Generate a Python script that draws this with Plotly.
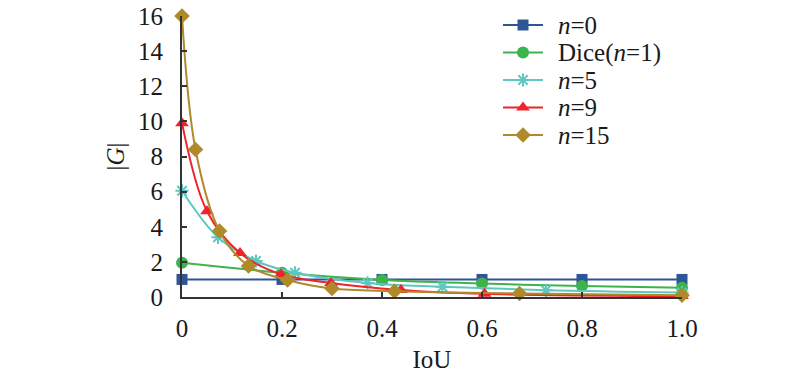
import plotly.graph_objects as go

# Data
x_n0 = [0, 0.2, 0.4, 0.6, 0.8, 1.0]
y_n0 = [1, 1, 1, 1, 1, 1]

x_dice = [0, 0.2, 0.4, 0.6, 0.8, 1.0]
y_dice = [1.95, 1.38, 0.97, 0.77, 0.62, 0.53]

x_n5 = [0, 0.072, 0.148, 0.226, 0.371, 0.521, 0.728, 1.0]
y_n5 = [6.05, 3.4, 2.05, 1.38, 0.8, 0.58, 0.38, 0.25]

x_n9 = [0, 0.05, 0.116, 0.198, 0.298, 0.438, 0.605, 1.0]
y_n9 = [9.9, 4.88, 2.5, 1.3, 0.8, 0.4, 0.18, 0.05]

x_n15 = [0, 0.027, 0.075, 0.133, 0.211, 0.30, 0.425, 0.675, 1.0]
y_n15 = [16, 8.4, 3.76, 1.77, 0.97, 0.48, 0.33, 0.2, 0.1]

x_ticks = [0, 0.2, 0.4, 0.6, 0.8, 1.0]
x_ticktext = ["0", "0.2", "0.4", "0.6", "0.8", "1.0"]
y_ticks = [0, 2, 4, 6, 8, 10, 12, 14, 16]

series_names = ["<i>n</i>=0", "Dice(<i>n</i>=1)", "<i>n</i>=5", "<i>n</i>=9", "<i>n</i>=15"]
series_x = [x_n0, x_dice, x_n5, x_n9, x_n15]
series_y = [y_n0, y_dice, y_n5, y_n9, y_n15]
colors = ["#2f5597", "#3cb44b", "#5ec8c0", "#f0222a", "#b08a2a"]
symbols = ["square", "circle", "asterisk-open", "triangle-up", "diamond"]
sizes = [11, 12, 11, 12, 12]

# plot-area geometry in page px
L, R, T, B = 182, 682, 16, 297
W, H = 800, 377
FONT = "Liberation Serif, Times New Roman, serif"
FS = 25

fig = go.Figure()
for name, xs, ys, col, sym, sz in zip(series_names, series_x, series_y, colors, symbols, sizes):
    fig.add_trace(go.Scatter(
        x=xs, y=ys, name=name, mode="lines+markers", showlegend=False,
        line=dict(color=col, width=2, shape="spline", smoothing=1.0),
        marker=dict(symbol=sym, size=sz, color=col,
                    line=dict(color=col, width=2 if "open" in sym else 0)),
        cliponaxis=False,
    ))

# Hand-laid legend on a pixel-scaled overlay axis
leg_x0, leg_x1, leg_txt = 503, 543, 556
leg_y0, leg_dy = 25, 27.5
for i, (name, col, sym, sz) in enumerate(zip(series_names, colors, symbols, sizes)):
    yy = leg_y0 + i * leg_dy
    fig.add_trace(go.Scatter(
        x=[leg_x0, leg_x1], y=[yy, yy], mode="lines", showlegend=False,
        line=dict(color=col, width=2), xaxis="x2", yaxis="y2",
        hoverinfo="skip", cliponaxis=False))
    fig.add_trace(go.Scatter(
        x=[(leg_x0 + leg_x1) / 2], y=[yy], mode="markers", showlegend=False,
        marker=dict(symbol=sym, size=sz, color=col,
                    line=dict(color=col, width=2 if "open" in sym else 0)),
        xaxis="x2", yaxis="y2", hoverinfo="skip", cliponaxis=False))
    fig.add_annotation(x=leg_txt, y=yy, xref="x2", yref="y2", text=name,
                       showarrow=False, xanchor="left", yanchor="middle",
                       font=dict(family=FONT, size=FS, color="#1a1a1a"))

fig.update_layout(
    width=W, height=H,
    margin=dict(l=L, r=W - R, t=T, b=H - B, autoexpand=False),
    paper_bgcolor="white", plot_bgcolor="white",
    font=dict(family=FONT, size=FS, color="#1a1a1a"),
    showlegend=False,
    xaxis=dict(range=[0, 1.0], tickvals=x_ticks, ticktext=x_ticktext,
               ticks="inside", ticklen=5, tickcolor="#333", tickwidth=1.5,
               showline=True, linecolor="#333", linewidth=2,
               showgrid=False, zeroline=False, automargin=False,
               ticklabelstandoff=8, ticklabeloverflow="allow",
               title=dict(text="IoU", standoff=9, font=dict(size=FS)),
               tickfont=dict(size=FS)),
    yaxis=dict(range=[0, 16], tickvals=y_ticks,
               ticks="inside", ticklen=5, tickcolor="#333", tickwidth=1.5,
               showline=True, linecolor="#333", linewidth=2,
               showgrid=False, zeroline=False, automargin=False,
               ticklabelstandoff=12, ticklabeloverflow="allow",
               title=dict(text="|<i>G</i>|", standoff=6, font=dict(size=FS)),
               tickfont=dict(size=FS)),
    xaxis2=dict(range=[L, R], overlaying="x", visible=False, fixedrange=True),
    yaxis2=dict(range=[B, T], overlaying="y", visible=False, fixedrange=True),
)

fig.write_html("out.html", config={"displayModeBar": False},
               post_script="document.body.style.margin='0';document.body.style.overflow='hidden';")
